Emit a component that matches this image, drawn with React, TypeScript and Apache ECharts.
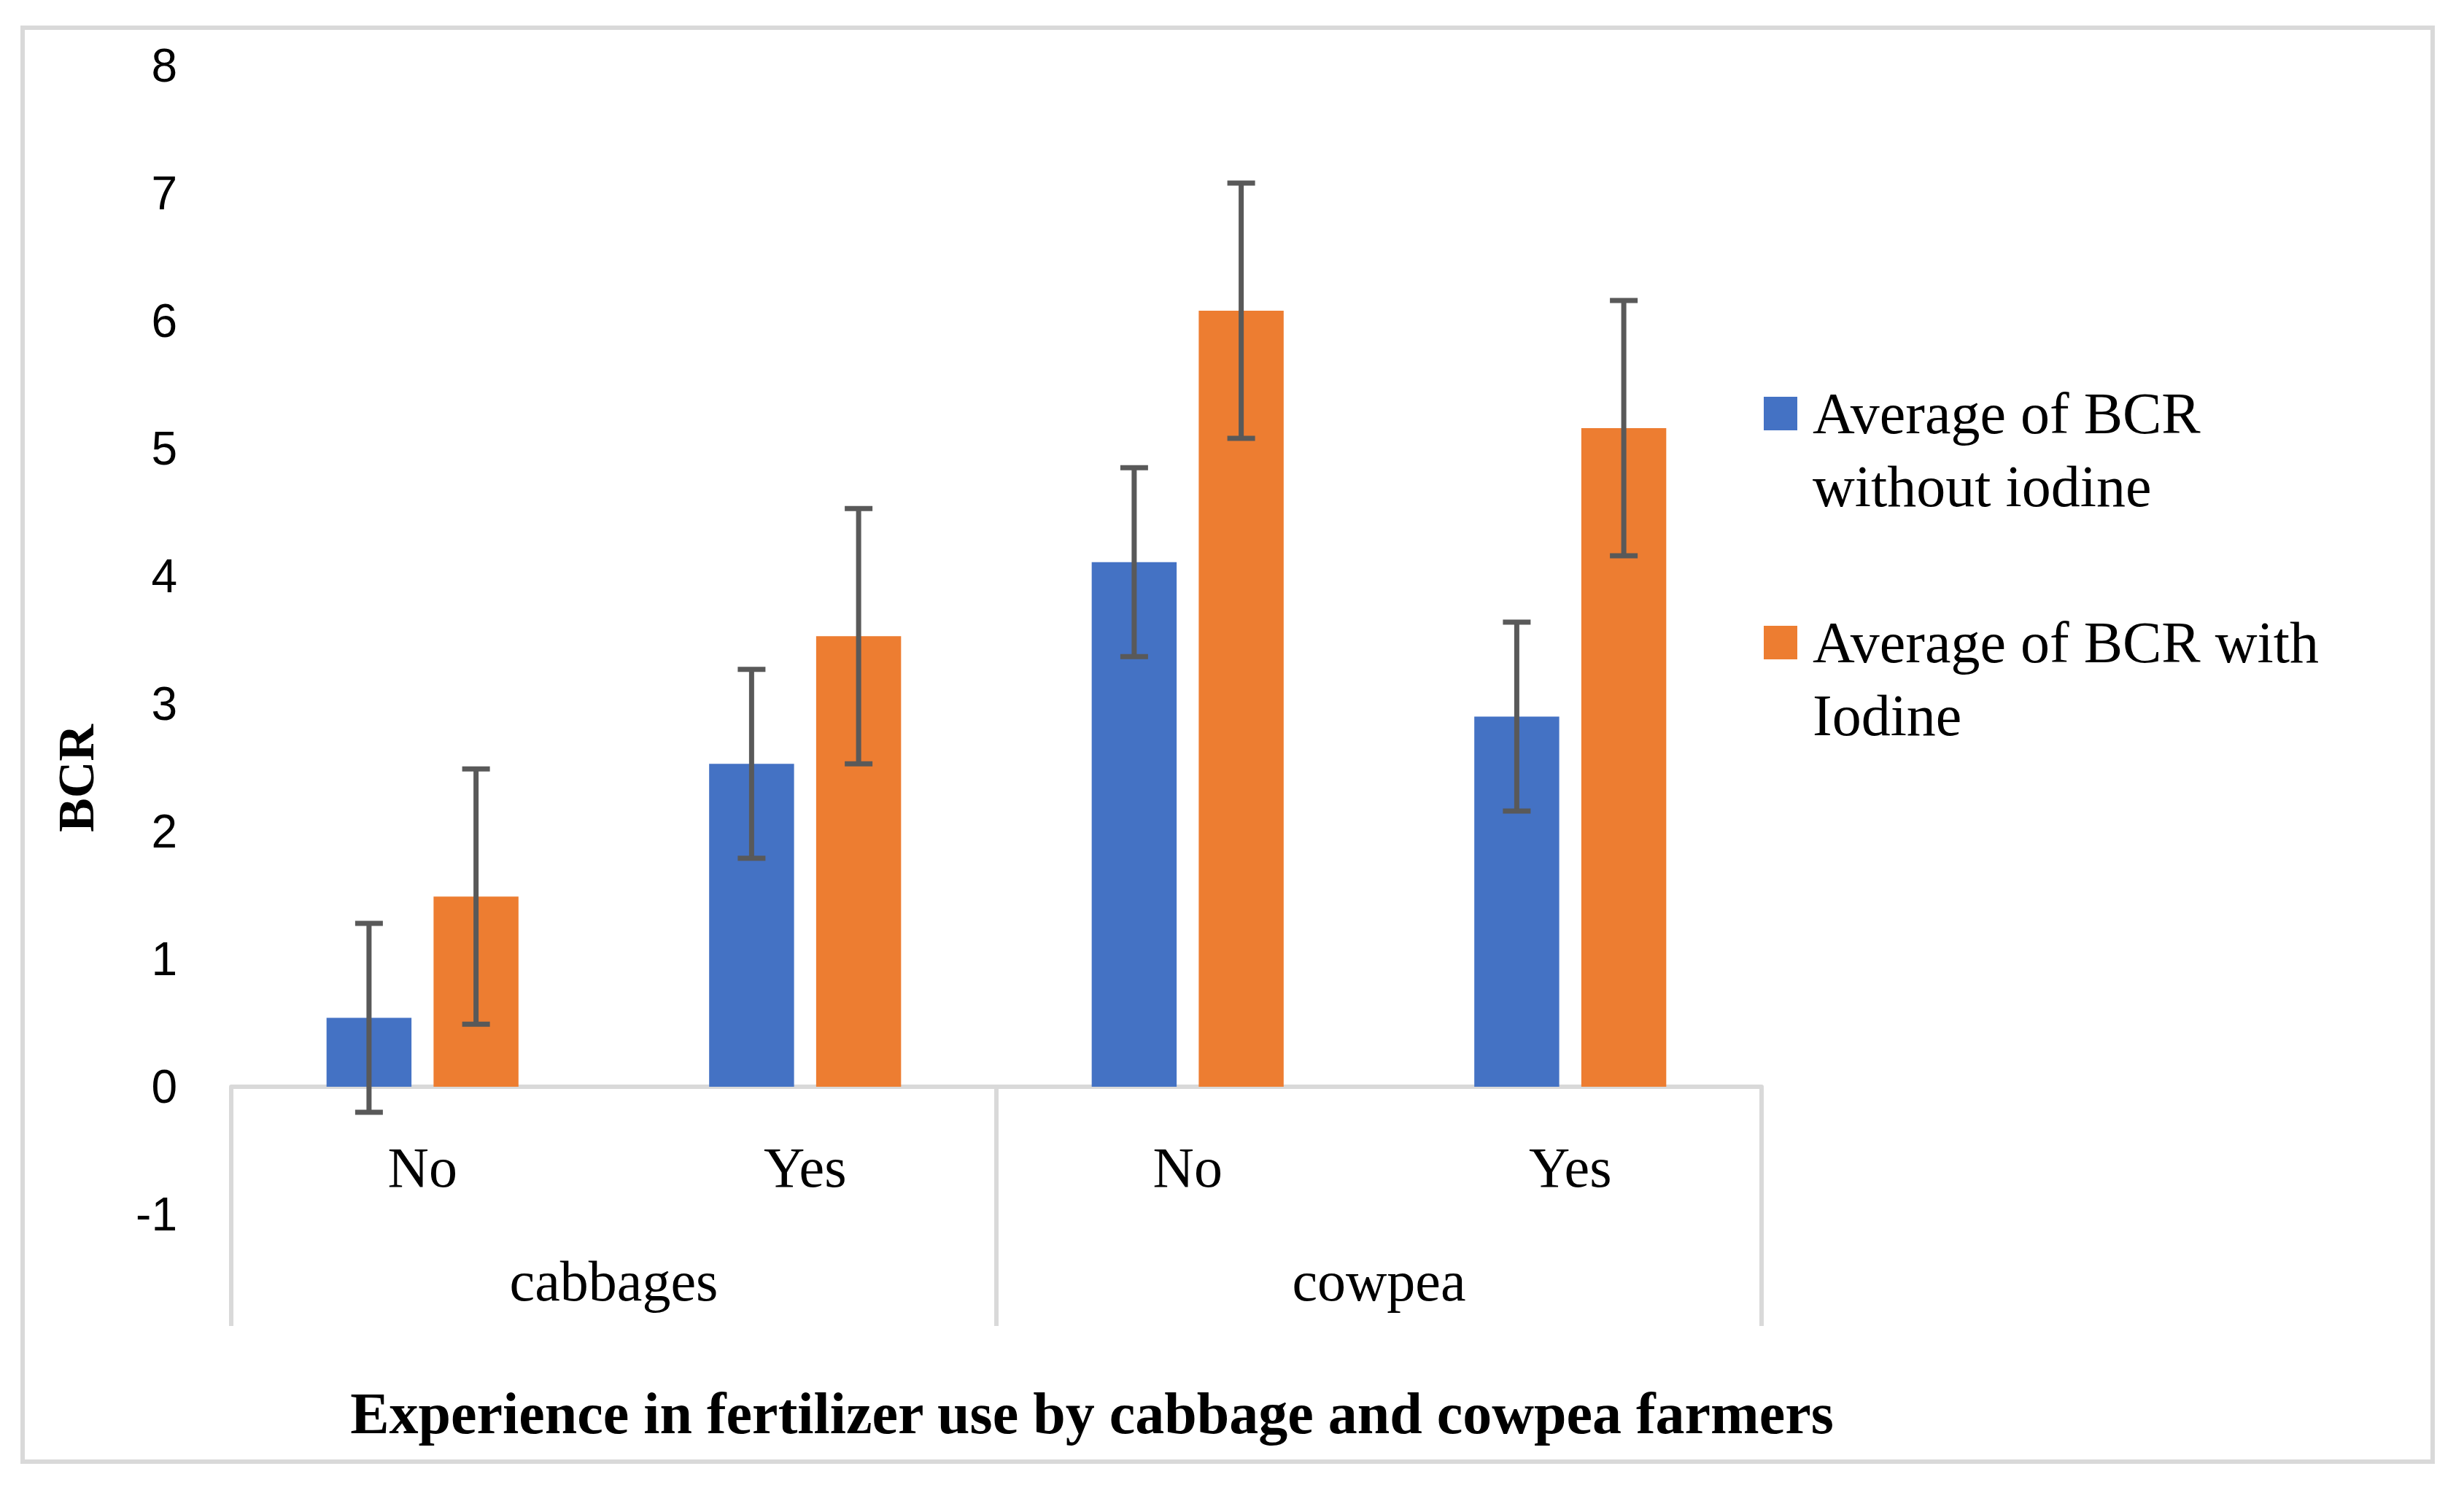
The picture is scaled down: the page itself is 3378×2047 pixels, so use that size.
import React, { useEffect, useRef } from "react";
import * as echarts from "echarts";

const categories = ["No", "Yes", "No", "Yes"];
const groups = ["cabbages", "cowpea"];
const seriesNames = ["Average of BCR without iodine", "Average of BCR with Iodine"];
const legendLabels = ["\nAverage of BCR\nwithout iodine", "\nAverage of BCR with\nIodine"];
const withoutIodine = [0.54, 2.53, 4.11, 2.9];
const withIodine = [1.49, 3.53, 6.08, 5.16];
const withoutIodineErr = [0.74, 0.74, 0.74, 0.74];
const withIodineErr = [1.0, 1.0, 1.0, 1.0];
const yTicks = { min: -1, max: 8, interval: 1 };
const xTitle = "Experience in fertilizer use by cabbage and cowpea farmers";
const yTitle = "BCR";

const BLUE = "#4472C4";
const ORANGE = "#ED7D31";
const GRAY = "#D9D9D9";
const ERR = "#595959";
const SERIF = "'Liberation Serif', 'Times New Roman', serif";
const SANS = "'Liberation Sans', Arial, sans-serif";
const BAR_FRAC = 0.222;
const GAP_FRAC = 0.26;

function errorRenderer(sign: number) {
  return (params: any, api: any) => {
    const i = api.value(0);
    const v = api.value(1);
    const e = api.value(2);
    const band = api.size([1, 0])[0];
    const bw = band * BAR_FRAC;
    const off = ((bw + bw * GAP_FRAC) / 2) * sign;
    const top = api.coord([i, v + e]);
    const bot = api.coord([i, v - e]);
    const x = top[0] + off;
    const cap = 19;
    const style = { stroke: ERR, lineWidth: 7 };
    return {
      type: "group",
      children: [
        { type: "line", shape: { x1: x, y1: top[1], x2: x, y2: bot[1] }, style },
        { type: "line", shape: { x1: x - cap, y1: top[1], x2: x + cap, y2: top[1] }, style },
        { type: "line", shape: { x1: x - cap, y1: bot[1], x2: x + cap, y2: bot[1] }, style },
      ],
    };
  };
}

export default function App() {
  const ref = useRef<HTMLDivElement>(null);
  useEffect(() => {
    if (!ref.current) return;
    const chart = echarts.init(ref.current, undefined, { renderer: "svg" });
    chart.setOption({
      animation: false,
      backgroundColor: "#ffffff",
      grid: { left: 317, right: 963, top: 90, bottom: 382, containLabel: false },
      legend: {
        orient: "vertical",
        left: 2418,
        top: 417,
        padding: 0,
        itemGap: 14,
        itemWidth: 46,
        itemHeight: 46,
        icon: "rect",
        data: seriesNames,
        formatter: (name: string) => legendLabels[seriesNames.indexOf(name)],
        textStyle: {
          fontFamily: SERIF,
          fontSize: 80,
          lineHeight: 100,
          color: "#000",
          padding: [0, 0, 0, 16],
        },
      },
      xAxis: [
        {
          type: "category",
          data: categories,
          axisLine: { show: true, onZero: true, lineStyle: { color: GRAY, width: 6 } },
          axisTick: { show: false },
          axisLabel: {
            inside: true,
            interval: 0,
            margin: 25,
            fontFamily: SERIF,
            fontSize: 78,
            lineHeight: 80,
            color: "#000",
          },
        },
        {
          type: "category",
          data: groups,
          position: "bottom",
          offset: 153,
          axisLine: { show: false, onZero: false },
          axisTick: {
            show: true,
            inside: true,
            length: 327,
            interval: 0,
            lineStyle: { color: GRAY, width: 6 },
          },
          axisLabel: {
            inside: true,
            interval: 0,
            margin: 22,
            fontFamily: SERIF,
            fontSize: 78,
            lineHeight: 80,
            color: "#000",
          },
        },
      ],
      yAxis: {
        type: "value",
        min: yTicks.min,
        max: yTicks.max,
        interval: yTicks.interval,
        axisLine: { show: false },
        axisTick: { show: false },
        splitLine: { show: false },
        axisLabel: { margin: 74, fontFamily: SANS, fontSize: 64, color: "#000" },
      },
      graphic: [
        {
          type: "rect",
          shape: { x: 31, y: 38, width: 3304, height: 1966 },
          style: { fill: "none", stroke: GRAY, lineWidth: 6 },
          z: -10,
        },
        {
          type: "text",
          x: 104,
          y: 1067,
          rotation: Math.PI / 2,
          style: {
            text: yTitle,
            align: "center",
            verticalAlign: "middle",
            font: `bold 70px ${SERIF}`,
            fill: "#000",
          },
        },
        {
          type: "text",
          x: 1497,
          y: 1938,
          style: {
            text: xTitle,
            align: "center",
            verticalAlign: "middle",
            font: `bold 80px ${SERIF}`,
            fill: "#000",
          },
        },
      ],
      series: [
        {
          name: seriesNames[0],
          type: "bar",
          data: withoutIodine,
          barWidth: `${BAR_FRAC * 100}%`,
          barGap: `${GAP_FRAC * 100}%`,
          itemStyle: { color: BLUE },
        },
        {
          name: seriesNames[1],
          type: "bar",
          data: withIodine,
          barWidth: `${BAR_FRAC * 100}%`,
          barGap: `${GAP_FRAC * 100}%`,
          itemStyle: { color: ORANGE },
        },
        {
          name: "err0",
          type: "custom",
          renderItem: errorRenderer(-1),
          encode: { x: 0, y: 1 },
          data: withoutIodine.map((v, i) => [i, v, withoutIodineErr[i]]),
          z: 10,
        },
        {
          name: "err1",
          type: "custom",
          renderItem: errorRenderer(1),
          encode: { x: 0, y: 1 },
          data: withIodine.map((v, i) => [i, v, withIodineErr[i]]),
          z: 10,
        },
      ],
    });
    return () => chart.dispose();
  }, []);
  return (
    <div
      ref={ref}
      style={{ position: "absolute", left: 0, top: 0, width: 3378, height: 2047 }}
    />
  );
}
